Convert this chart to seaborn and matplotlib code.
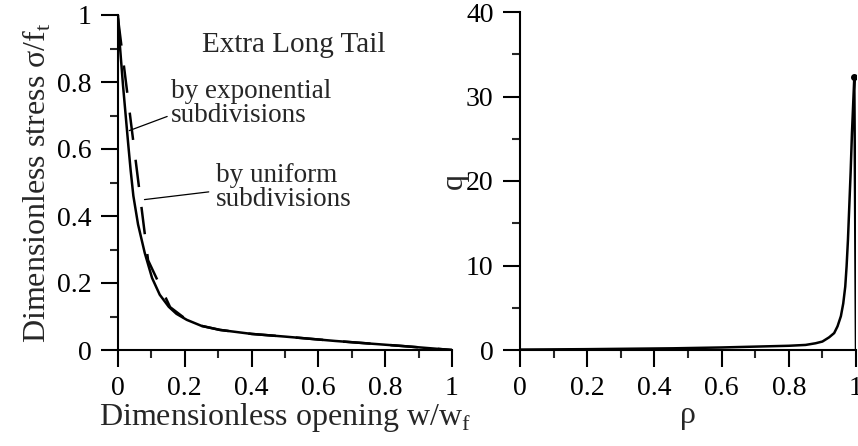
import numpy as np
import pandas as pd
import seaborn as sns
import matplotlib
matplotlib.use("Agg")
import matplotlib.pyplot as plt
from matplotlib.ticker import MultipleLocator, FuncFormatter

# softening curve, exponential subdivisions (solid)
w_exp = [0.0, 0.004, 0.015, 0.027, 0.031, 0.038, 0.046, 0.06, 0.08, 0.102,
         0.125, 0.152, 0.175, 0.206, 0.25, 0.305, 0.4, 0.5, 0.65, 0.85, 1.0]
s_exp = [1.0, 0.93, 0.79, 0.655, 0.61, 0.535, 0.46, 0.375, 0.29, 0.215,
         0.165, 0.129, 0.108, 0.09, 0.072, 0.06, 0.048, 0.04, 0.027, 0.012, 0.0]

# softening curve, uniform subdivisions (dashed)
w_uni = [0.0, 0.09, 0.156, 0.206, 0.25, 0.305, 0.4, 0.5, 0.65, 0.85, 1.0]
s_uni = [0.99, 0.268, 0.128, 0.09, 0.072, 0.06, 0.048, 0.04, 0.027, 0.012, 0.0]

# q vs rho
rho = [0.0, 0.2, 0.456, 0.6, 0.8, 0.85, 0.88, 0.9, 0.92, 0.935, 0.945, 0.955,
       0.962, 0.968, 0.972, 0.976, 0.98, 0.984, 0.988, 0.992, 0.995, 1.0]
q = [0.05, 0.1, 0.2, 0.3, 0.5, 0.6, 0.8, 1.0, 1.5, 2.0, 2.8, 4.0,
     5.5, 7.5, 9.9, 13.0, 17.0, 21.0, 25.7, 29.5, 32.3, 0.0]

sns.set_style("ticks")
plt.rcParams['font.family'] = ['Liberation Serif', 'DejaVu Serif']
plt.rcParams['mathtext.fontset'] = 'custom'
plt.rcParams['mathtext.rm'] = 'Liberation Serif'
plt.rcParams['axes.linewidth'] = 1.5

fig = plt.figure(figsize=(8.58, 4.46), dpi=100)
ax1 = fig.add_axes([118/858, 1-350/446, (452-118)/858, (350-15)/446])
ax2 = fig.add_axes([520/858, 1-350/446, (856-520)/858, (350-12)/446])

fmt = FuncFormatter(lambda v, p: ('%g' % round(v, 2)))

df_exp = pd.DataFrame({'w': w_exp, 's': s_exp})
df_uni = pd.DataFrame({'w': w_uni, 's': s_uni})
sns.lineplot(data=df_exp, x='w', y='s', ax=ax1, color='black', lw=1.8,
             sort=False, estimator=None)
sns.lineplot(data=df_uni, x='w', y='s', ax=ax1, color='black', lw=1.8,
             sort=False, estimator=None, dashes=False, linestyle=(0, (11, 8)))

ax1.set_xlim(0, 1)
ax1.set_ylim(0, 1)
ax1.xaxis.set_major_locator(MultipleLocator(0.2))
ax1.xaxis.set_minor_locator(MultipleLocator(0.1))
ax1.yaxis.set_major_locator(MultipleLocator(0.2))
ax1.yaxis.set_minor_locator(MultipleLocator(0.1))
ax1.xaxis.set_major_formatter(fmt)
ax1.yaxis.set_major_formatter(fmt)
ax1.set_xlabel(r"Dimensionless opening w/w$_\mathregular{f}$", fontsize=23, labelpad=0)
ax1.set_ylabel(r"Dimensionless stress σ/f$_\mathregular{t}$", fontsize=23, labelpad=3)

ax1.text(0.525, 0.91, "Extra Long Tail", fontsize=21, ha='center', va='center',
         transform=ax1.transAxes)
ax1.text(0.158, 0.735, "by exponential\nsubdivisions", fontsize=19.5, ha='left',
         va='center', linespacing=0.95, transform=ax1.transAxes)
ax1.text(0.293, 0.485, "by uniform\nsubdivisions", fontsize=19.5, ha='left',
         va='center', linespacing=0.95, transform=ax1.transAxes)
ax1.annotate("", xy=(0.026, 0.652), xytext=(0.155, 0.70),
             arrowprops=dict(arrowstyle='-', color='black', lw=0.9))
ax1.annotate("", xy=(0.071, 0.448), xytext=(0.28, 0.473),
             arrowprops=dict(arrowstyle='-', color='black', lw=0.9))

df_q = pd.DataFrame({'rho': rho, 'q': q})
sns.lineplot(data=df_q, x='rho', y='q', ax=ax2, color='black', lw=1.8,
             sort=False, estimator=None)
ax2.plot(rho[-2], q[-2], 'o', color='black', ms=4)
ax2.set_xlim(0, 1)
ax2.set_ylim(0, 40)
ax2.xaxis.set_major_locator(MultipleLocator(0.2))
ax2.xaxis.set_minor_locator(MultipleLocator(0.1))
ax2.yaxis.set_major_locator(MultipleLocator(10))
ax2.yaxis.set_minor_locator(MultipleLocator(5))
ax2.xaxis.set_major_formatter(fmt)
ax2.set_xlabel("ρ", fontsize=23, labelpad=0)
ax2.set_ylabel("q", fontsize=23, labelpad=-2)

for ax in (ax1, ax2):
    sns.despine(ax=ax)
    ax.tick_params(which='major', direction='out', length=12, width=1.5,
                   labelsize=20, pad=7, colors='black')
    ax.tick_params(which='minor', direction='out', length=6, width=1.5)
    for sp in ax.spines.values():
        sp.set_linewidth(1.5)
        sp.set_color('black')
    ax.set_facecolor('white')

fig.savefig("out.png", dpi=100, facecolor='white')
